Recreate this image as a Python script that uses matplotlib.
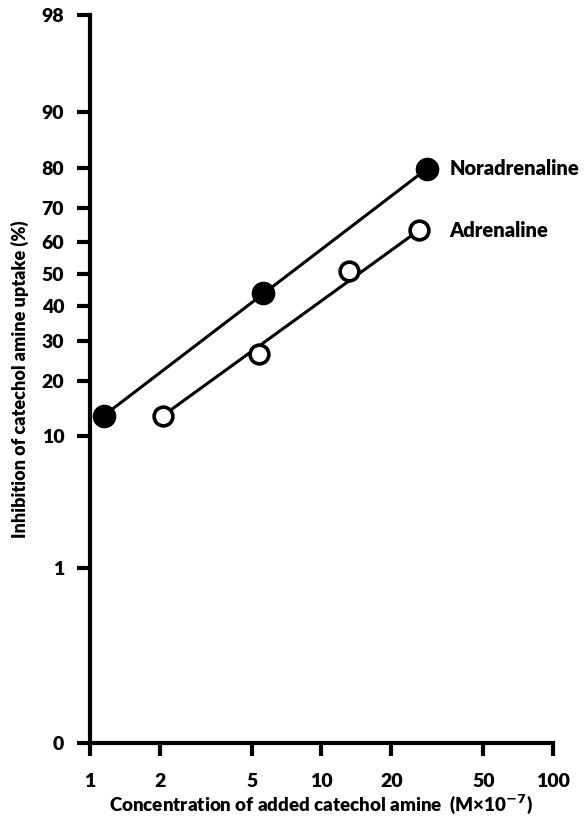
import matplotlib.pyplot as plt
from statistics import NormalDist

plt.rcParams['font.family'] = ['Lato', 'DejaVu Sans']
plt.rcParams['font.weight'] = 'heavy'

# probit transform for the percentage axis
probit = NormalDist().inv_cdf


def z(p):
    return probit(p / 100.0)


nor_conc = [1.15, 5.6, 28.5]
nor_inhib = [13.2, 44.0, 79.8]

adr_conc = [2.07, 5.35, 13.2, 26.3]
adr_inhib = [13.2, 26.5, 51.0, 63.6]

ytick_pct = [0.0105, 1, 10, 20, 30, 40, 50, 60, 70, 80, 90, 98]
ytick_labels = ['0', '1', '10', '20', '30', '40', '50', '60', '70', '80', '90', '98']
xtick_vals = [1, 2, 5, 10, 20, 50, 100]
label_x = 35.8

fig = plt.figure(figsize=(5.84, 8.19), dpi=100)
ax = fig.add_axes([0.154, 0.093, 0.793, 0.889])

# fitted lines run from first to last point, markers drawn on top
ax.plot([nor_conc[0], nor_conc[-1]], [z(nor_inhib[0]), z(nor_inhib[-1])],
        color='black', lw=2.2, zorder=2)
ax.plot([adr_conc[0], adr_conc[-1]], [z(adr_inhib[0]), z(adr_inhib[-1])],
        color='black', lw=2.2, zorder=2)
ax.plot(nor_conc, [z(p) for p in nor_inhib], ls='none',
        marker='o', ms=16, mfc='black', mec='black', zorder=3)
ax.plot(adr_conc, [z(p) for p in adr_inhib], ls='none',
        marker='o', ms=13.5, mfc='white', mec='black', mew=2.6, zorder=3)

ax.text(label_x, z(nor_inhib[-1]), 'Noradrenaline', va='center', ha='left',
        fontsize=14.5, fontweight='heavy')
ax.text(label_x, z(adr_inhib[-1]), 'Adrenaline', va='center', ha='left',
        fontsize=14.5, fontweight='heavy')

ax.set_xscale('log')
ax.set_xlim(1, 100)
ax.set_ylim(z(ytick_pct[0]), z(98))
ax.set_xticks(xtick_vals)
ax.set_xticklabels([str(v) for v in xtick_vals])
ax.xaxis.set_minor_locator(plt.NullLocator())
ax.set_yticks([z(p) for p in ytick_pct])
ax.set_yticklabels(ytick_labels)

for side in ['top', 'right']:
    ax.spines[side].set_visible(False)
for side in ['left', 'bottom']:
    ax.spines[side].set_linewidth(3)
ax.tick_params(axis='both', direction='out', length=9.5, width=3, labelsize=14)
ax.tick_params(axis='x', pad=12)
ax.tick_params(axis='y', pad=9)

ax.set_xlabel('Concentration of added catechol amine  (M\u00d710$^{-7}$)', fontsize=13.5,
              fontweight='heavy', labelpad=2)
ax.set_ylabel('Inhibition of catechol amine uptake (%)', fontsize=13,
              fontweight='heavy', labelpad=9)

fig.savefig('out.png', dpi=100)
